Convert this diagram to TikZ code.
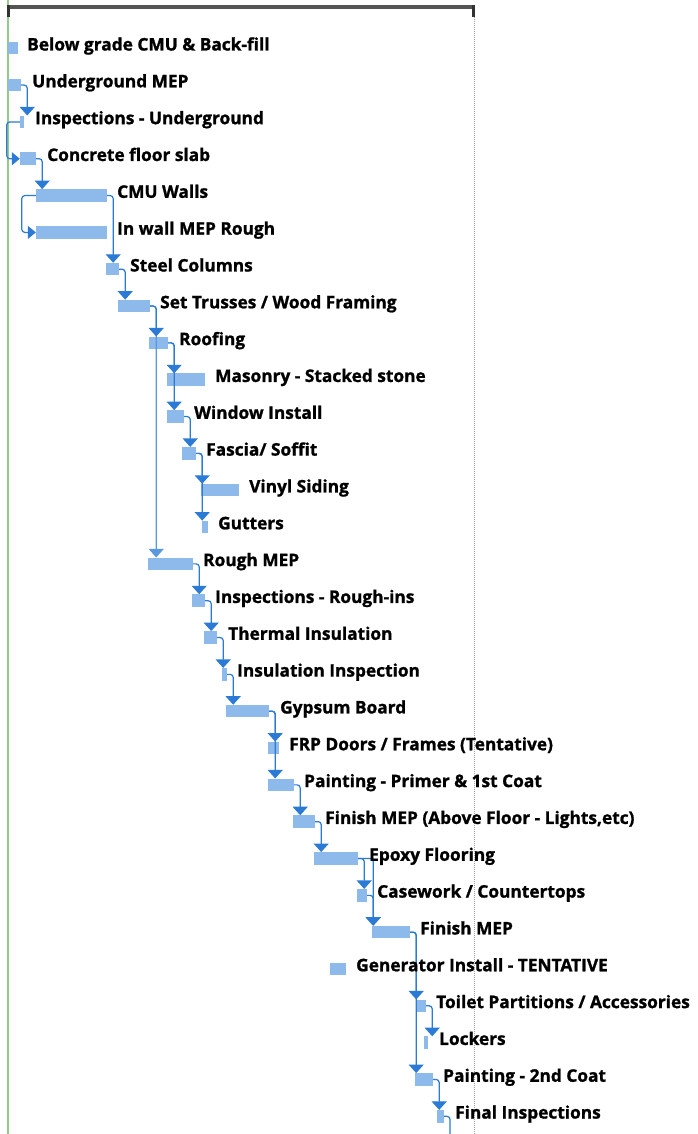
\documentclass[tikz,border=0pt]{standalone}
\usepackage{fontspec}
\newfontfamily\lblfam{Open Sans}[BoldFeatures={FakeBold=1.2}]
\usetikzlibrary{arrows.meta}
\definecolor{barblue}{HTML}{8DB9EB}
\definecolor{linkblue}{HTML}{2A7AD6}
\definecolor{lightlink}{HTML}{5A99E0}
\definecolor{greenline}{HTML}{93CC8A}
\definecolor{topbar}{HTML}{555555}
\definecolor{tickdark}{HTML}{333333}
\definecolor{dotgray}{HTML}{A0A0A0}
\tikzset{
  bar/.style={fill=barblue, draw=none, inner sep=0pt, minimum height=12.5pt},
  lbl/.style={anchor=base west, inner sep=0pt, font=\lblfam\bfseries\fontsize{17.3}{20}\selectfont},
  link/.style={draw=linkblue, line width=1.2pt, rounded corners=3pt},
  fs/.style={link, -{Triangle[width=15pt,length=8.5pt]}},
  ss/.style={link, -{Triangle[width=13pt,length=8pt]}},
}
\begin{document}
\begin{tikzpicture}[x=1pt, y=-1pt]
\useasboundingbox (0,0) rectangle (698,1134);
\fill[white] (0,0) rectangle (698,1134);
% frame lines
\fill[greenline] (7.2,0) rectangle (9.2,1134);
\draw[dotgray, line width=1pt, dash pattern=on 1pt off 1pt] (474,17) -- (474,1134);
\fill[topbar] (8,5) rectangle (473,9);
\fill[tickdark] (7,5) rectangle (9.5,17);
\fill[tickdark] (471.8,5) rectangle (475.2,17);
% bars
\node[bar, minimum width=10pt] (b1) at (13,48.25) {};
\node[bar, minimum width=13pt] (b2) at (14.5,85.08) {};
\node[bar, minimum width=4pt] (b3) at (22,121.91) {};
\node[bar, minimum width=16pt] (b4) at (28,158.74) {};
\node[bar, minimum width=71pt] (b5) at (71.5,195.57) {};
\node[bar, minimum width=71pt] (b6) at (71.5,232.4) {};
\node[bar, minimum width=13pt] (b7) at (112.5,269.23) {};
\node[bar, minimum width=32pt] (b8) at (134,306.06) {};
\node[bar, minimum width=19pt] (b9) at (158.5,342.89) {};
\node[bar, minimum width=38pt] (b10) at (186,379.72) {};
\node[bar, minimum width=17pt] (b11) at (175.5,416.55) {};
\node[bar, minimum width=14pt] (b12) at (189,453.38) {};
\node[bar, minimum width=38pt] (b13) at (220,490.21) {};
\node[bar, minimum width=6pt] (b14) at (205,527.04) {};
\node[bar, minimum width=45pt] (b15) at (170.5,563.87) {};
\node[bar, minimum width=13pt] (b16) at (198.5,600.7) {};
\node[bar, minimum width=13pt] (b17) at (210.5,637.53) {};
\node[bar, minimum width=5pt] (b18) at (224.5,674.36) {};
\node[bar, minimum width=43pt] (b19) at (247.5,711.19) {};
\node[bar, minimum width=11pt] (b20) at (273.5,748.02) {};
\node[bar, minimum width=26pt] (b21) at (281,784.85) {};
\node[bar, minimum width=22pt] (b22) at (304,821.68) {};
\node[bar, minimum width=44pt] (b23) at (336,858.51) {};
\node[bar, minimum width=10pt] (b24) at (362,895.34) {};
\node[bar, minimum width=38pt] (b25) at (391,932.17) {};
\node[bar, minimum width=16pt] (b26) at (338,969) {};
\node[bar, minimum width=10pt] (b27) at (421,1005.83) {};
\node[bar, minimum width=4pt] (b28) at (426,1042.66) {};
\node[bar, minimum width=18pt] (b29) at (424,1079.49) {};
\node[bar, minimum width=7pt] (b30) at (440.5,1116.32) {};
% turning points of the links
\foreach \p in {2,4,5,7,8,9,11,12,15,16,17,18,19,21,22,23,24,25,27,29,30}
  \coordinate (v\p) at ([xshift=6pt]b\p.east);
\coordinate (w23) at ([xshift=15pt]b23.east);
\coordinate (s3) at ([xshift=-13pt]b3.west);
\coordinate (s5) at ([xshift=-14pt]b5.west);
\coordinate (out30) at (450,1134);
% links
\draw[fs, draw=lightlink] (b8.east) -| (v8 |- b15.north);
\draw[fs] (b2.east) -| (v2 |- b3.north);
\draw[ss] (b3.west) -- (s3) |- (b4.west);
\draw[fs] (b4.east) -| (v4 |- b5.north);
\draw[ss] (b5.west) -- (s5) |- (b6.west);
\draw[fs] (b5.east) -| (v5 |- b7.north);
\draw[fs] (b7.east) -| (v7 |- b8.north);
\draw[fs] (b8.east) -| (v8 |- b9.north);
\draw[fs] (b9.east) -| (v9 |- b11.north);
\draw[fs] (b9.east) -| (v9 |- b10.north);
\draw[fs] (b11.east) -| (v11 |- b12.north);
\draw[fs] (b12.east) -| (v12 |- b14.north);
\draw[fs] (b12.east) -| (v12 |- b13.north);
\draw[fs] (b15.east) -| (v15 |- b16.north);
\draw[fs] (b16.east) -| (v16 |- b17.north);
\draw[fs] (b17.east) -| (v17 |- b18.north);
\draw[fs] (b18.east) -| (v18 |- b19.north);
\draw[fs] (b19.east) -| (v19 |- b21.north);
\draw[fs] (b19.east) -| (v19 |- b20.north);
\draw[fs] (b21.east) -| (v21 |- b22.north);
\draw[fs] (b22.east) -| (v22 |- b23.north);
\draw[fs] (b23.east) -| (v23 |- b24.north);
\draw[fs] (b23.east) -| (w23 |- b25.north);
\draw[fs] (b24.east) -| (v24 |- b25.north);
\draw[fs] (b25.east) -| (v25 |- b29.north);
\draw[fs] (b25.east) -| (v25 |- b27.north);
\draw[fs] (b27.east) -| (v27 |- b28.north);
\draw[fs] (b29.east) -| (v29 |- b30.north);
\draw[link] (b30.east) -| (out30);
% labels
\node[lbl] (t1) at (27,50.5) {Below grade CMU \& Back-fill};
\node[lbl] (t2) at (32,87.33) {Underground MEP};
\node[lbl] (t3) at (35,124.16) {Inspections - Underground};
\node[lbl] (t4) at (47,160.99) {Concrete floor slab};
\node[lbl] (t5) at (117,197.82) {CMU Walls};
\node[lbl] (t6) at (117,234.65) {In wall MEP Rough};
\node[lbl] (t7) at (130,271.48) {Steel Columns};
\node[lbl] (t8) at (160,308.31) {Set Trusses / Wood Framing};
\node[lbl] (t9) at (179,345.14) {Roofing};
\node[lbl] (t10) at (215,381.97) {Masonry - Stacked stone};
\node[lbl] (t11) at (194,418.8) {Window Install};
\node[lbl] (t12) at (206,455.63) {Fascia/ Soffit};
\node[lbl] (t13) at (249,492.46) {Vinyl Siding};
\node[lbl] (t14) at (218,529.29) {Gutters};
\node[lbl] (t15) at (203,566.12) {Rough MEP};
\node[lbl] (t16) at (215,602.95) {Inspections - Rough-ins};
\node[lbl] (t17) at (228,639.78) {Thermal Insulation};
\node[lbl] (t18) at (237,676.61) {Insulation Inspection};
\node[lbl] (t19) at (280,713.44) {Gypsum Board};
\node[lbl] (t20) at (289,750.27) {FRP Doors / Frames (Tentative)};
\node[lbl] (t21) at (304,787.1) {Painting - Primer \& 1st Coat};
\node[lbl] (t22) at (325,823.93) {Finish MEP (Above Floor - Lights,etc)};
\node[lbl] (t23) at (369,860.76) {Epoxy Flooring};
\node[lbl] (t24) at (377,897.59) {Casework / Countertops};
\node[lbl] (t25) at (420,934.42) {Finish MEP};
\node[lbl] (t26) at (356,971.25) {Generator Install - TENTATIVE};
\node[lbl] (t27) at (436,1008.08) {Toilet Partitions / Accessories};
\node[lbl] (t28) at (439,1044.91) {Lockers};
\node[lbl] (t29) at (443,1081.74) {Painting - 2nd Coat};
\node[lbl] (t30) at (455,1118.57) {Final Inspections};
\end{tikzpicture}
\end{document}
